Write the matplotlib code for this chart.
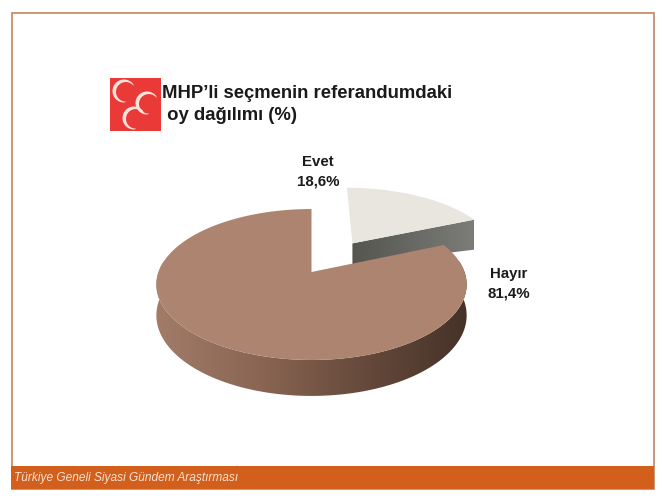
import numpy as np
import matplotlib
matplotlib.use("Agg")
import matplotlib.pyplot as plt
from matplotlib.patches import Polygon, Rectangle
from matplotlib.colors import LinearSegmentedColormap

labels = ["Evet", "Hayır"]
values = [18.6, 81.4]
value_text = ["18,6%", "81,4%"]
title_lines = ["MHP’li seçmenin referandumdaki", " oy dağılımı (%)"]
footer = "Türkiye Geneli Siyasi Gündem Araştırması"

plt.rcParams['font.family'] = ['Liberation Sans', 'DejaVu Sans']
fig = plt.figure(figsize=(6.65, 5), dpi=100)
ax = fig.add_axes([0, 0, 1, 1])
ax.set_xlim(0, 665); ax.set_ylim(500, 0); ax.axis('off')

CX, CY, RX, RY, K = 311.5, 272, 153, 73.4, 0.1656
def project(u, v):
    w = 1 + K * v
    return CX + RX * u / w, CY - RY * v / w

def wedge(t0, t1, du=0, dv=0, n=200):
    t = np.linspace(t0, t1, n)
    return np.r_[du, du + np.sin(t)], np.r_[dv, dv + np.cos(t)]

def gradient_fill(poly_xy, cmap, x0, x1, zorder):
    poly = Polygon(poly_xy, closed=True, fc='none', ec='none', zorder=zorder)
    ax.add_patch(poly)
    ys = poly_xy[:, 1]
    im = ax.imshow(np.linspace(0, 1, 256)[None, :], cmap=cmap, aspect='auto',
                   extent=(x0, x1, ys.max(), ys.min()), zorder=zorder)
    im.set_clip_path(poly)
    ax.set_xlim(0, 665); ax.set_ylim(500, 0)

# frame and footer
ax.add_patch(Rectangle((11.5, 12.5), 642, 476, fc='white', ec='#BF8660', lw=1.2, zorder=1))
ax.add_patch(Rectangle((11, 466), 643, 23, fc='#D2601C', ec='none', zorder=2))
ax.text(14, 478, footer, color='#F5E3D5', style='italic', fontsize=8.6, va='center', ha='left', zorder=3)

# logo
ax.add_patch(Rectangle((110, 78), 51, 53, fc='#E93A38', ec='none', zorder=2))
for cx, cy, a in [(124, 91, -25), (147, 103, -25), (134, 118, -25)]:
    t = np.radians(np.linspace(62, 298, 60)) + np.radians(a)
    outer = np.c_[cx + 11.5 * np.cos(t), cy - 11.5 * np.sin(t)]
    inner = np.c_[cx + 2 * np.cos(np.radians(a)) + 9.8 * np.cos(t[::-1]),
                  cy - 2 * np.sin(np.radians(a)) - 9.8 * np.sin(t[::-1])]
    ax.add_patch(Polygon(np.r_[outer, inner], fc='#FBE3DC', ec='none', zorder=3))

# title
ax.text(162, 93, title_lines[0], fontsize=13.3, fontweight='bold', color='#1a1a1a', va='center', ha='left')
ax.text(162, 116, title_lines[1], fontsize=13.3, fontweight='bold', color='#1a1a1a', va='center', ha='left')

# slice angles derived from the values
ev_ang = 2 * np.pi * values[0] / sum(values)
mid = ev_ang / 2
EXPL = 0.5
du, dv = EXPL * np.sin(mid) + 0.01, EXPL * np.cos(mid)

# Evet slice: side then top
u, v = wedge(0, ev_ang, du, dv)
ex, ey = project(u, v)
f0 = np.array(project(u[0], v[0]))
f1 = np.array([ex[-1], ey[-1]])
front = np.c_[[f0[0], f1[0]], [f0[1], f1[1]]]
front_low = front + np.array([[0, 21], [0, 30]])
side_poly = np.r_[front, front_low[::-1]]
gradient_fill(side_poly, LinearSegmentedColormap.from_list('g', ['#555550', '#7c7d78']), f0[0], f1[0], 4)
ax.add_patch(Polygon(np.c_[ex, ey], fc='#E8E6DE', ec='none', zorder=5))

# Hayır slice: cylinder side then top
u, v = wedge(ev_ang, 2 * np.pi)
mx, my = project(u, v)
t = np.linspace(np.pi / 2 - 0.15, 3 * np.pi / 2 + 0.15, 300)
ru, rv = np.sin(t), np.cos(t)
rx_, ry_ = project(ru, rv)
depth = 30 / (1 + K * rv)
side = np.r_[np.c_[rx_, ry_], np.c_[rx_, ry_ + depth][::-1]]
gradient_fill(side, LinearSegmentedColormap.from_list('b2', ['#463228', '#664a3b', '#8a6553', '#a27c69'][::-1]), rx_.min(), rx_.max(), 6)
ax.add_patch(Polygon(np.c_[mx, my], fc='#AD8470', ec='none', zorder=7))

# labels
ax.text(318, 162, labels[0], fontsize=10.8, fontweight='bold', color='#1a1a1a', ha='center', va='center', zorder=8)
ax.text(318, 181, value_text[0], fontsize=10.8, fontweight='bold', color='#1a1a1a', ha='center', va='center', zorder=8)
ax.text(509, 274, labels[1], fontsize=10.8, fontweight='bold', color='#1a1a1a', ha='center', va='center', zorder=8)
ax.text(509, 293, value_text[1], fontsize=10.8, fontweight='bold', color='#1a1a1a', ha='center', va='center', zorder=8)

fig.savefig("out.png", dpi=100)
